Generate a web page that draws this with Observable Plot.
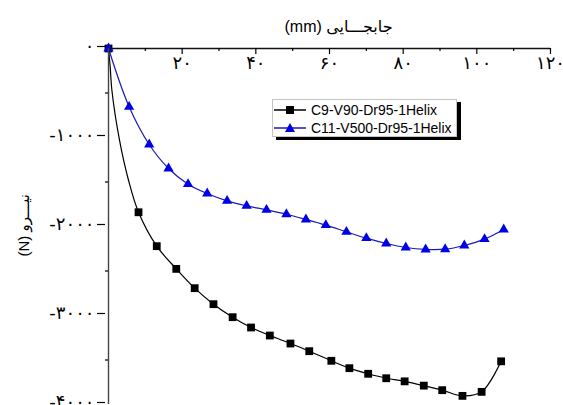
<!DOCTYPE html>
<html>
<head>
<meta charset="utf-8">
<script src="https://cdn.jsdelivr.net/npm/d3@7"></script>
<script src="https://cdn.jsdelivr.net/npm/@observablehq/plot@0.6"></script>
<style>
  html, body { margin: 0; padding: 0; background: #fff; }
  #wrap { position: relative; width: 563px; height: 405px; overflow: hidden; }
  #wrap svg { display: block; }
  g[aria-label="y-axis tick label"] text { font-size: 18px; letter-spacing: 3px; }
  g[aria-label="x-axis tick label"] text { font-size: 18px; letter-spacing: 2px; }
  #legend { position: absolute; left: 272px; top: 99px; width: 183px; height: 36px;
    background: #fff; border: 1px solid #c4c4c4; box-shadow: 4px 3px 0 #000;
    font-family: "Liberation Sans", Arial, sans-serif; font-size: 14px; color: #000; }
  .row { position: absolute; left: 0; height: 18px; display: flex; align-items: center; white-space: nowrap; }
  .row svg { margin-right: 4px; }
</style>
</head>
<body>
<div id="wrap"></div>
<script>
// ---- data ----
const seriesNames = ["C9-V90-Dr95-1Helix", "C11-V500-Dr95-1Helix"];
const xTitle = "(mm) جابجـــایی";
const yTitle = "(N) نیـــرو";

// series 1 (black squares)
const c9X = [0, 8.15, 13.1, 18.4, 23.4, 28.5, 33.7, 38.7, 43.8, 49.4, 54.5, 60.5, 65.4, 70.5, 75.4, 80.4, 85.6, 90.6, 96.1, 101.3, 106.6];
const c9Y = [0, -1840, -2221, -2476, -2693, -2873, -3019, -3135, -3225, -3315, -3401, -3509, -3592, -3655, -3705, -3740, -3788, -3839, -3903, -3858, -3515];
// extra points on the black line (no markers)
const c9LineX = [0.46, 0.92, 2.99, 5.43];
const c9LineY = [-207, -469, -1030, -1480];

// series 2 (blue triangles)
const c11X = [0, 5.6, 11.05, 16.3, 21.6, 26.8, 32.2, 37.5, 42.9, 48.3, 53.6, 59.0, 64.6, 70.0, 75.4, 80.7, 86.1, 91.4, 96.6, 102.1, 107.3];
const c11Y = [0, -655, -1079, -1348, -1524, -1629, -1712, -1768, -1813, -1862, -1921, -1985, -2060, -2131, -2191, -2236, -2258, -2255, -2213, -2142, -2034];

// ticks
const xMajor = [20, 40, 60, 80, 100, 120];
const xMinor = [10, 30, 50, 70, 90, 110];
const yMajor = [0, -1000, -2000, -3000, -4000];
const yMinor = [-500, -1500, -2500, -3500];

// ---- build ----
const faDigits = "۰۱۲۳۴۵۶۷۸۹";
const fa = (n) => String(n).replace(/\d/g, (d) => faDigits[+d]);

const s1 = c9X.map((x, i) => ({x, y: c9Y[i]}));
const s1line = s1.concat(c9LineX.map((x, i) => ({x, y: c9LineY[i]}))).sort((a, b) => a.x - b.x);
const s2 = c11X.map((x, i) => ({x, y: c11Y[i]}));

const black = "#000000";
const blueLine = "#1a1ab4";
const blueFill = "#0000e6";

const chart = Plot.plot({
  width: 563,
  height: 405,
  marginLeft: 108,
  marginRight: 13,
  marginTop: 48,
  marginBottom: 1,
  x: {domain: [0, 120]},
  y: {domain: [-4000, 0]},
  style: {fontFamily: "'DejaVu Sans', sans-serif", background: "#fff", color: "#000", overflow: "visible"},
  marks: [
    Plot.line(s1line, {x: "x", y: "y", stroke: black, strokeWidth: 1.2, curve: "catmull-rom"}),
    Plot.line(s2, {x: "x", y: "y", stroke: blueLine, strokeWidth: 1.2, curve: "catmull-rom"}),
    Plot.dot(s1, {x: "x", y: "y", symbol: "square", r: 4.4, fill: black, stroke: null}),
    Plot.dot(s2, {x: "x", y: "y", symbol: "triangle", r: 3.8, fill: blueFill, stroke: null}),
    Plot.ruleY([0], {stroke: "#111", strokeWidth: 1.4}),
    Plot.ruleX([0], {stroke: "#444", strokeWidth: 1.4}),
    Plot.axisX({anchor: "bottom", frameAnchor: "top", ticks: xMajor, tickSize: 6, tickPadding: 2,
      tickFormat: fa, fontSize: 18, label: null, strokeWidth: 1.2}),
    Plot.axisX({anchor: "bottom", frameAnchor: "top", ticks: xMinor, tickSize: 3,
      tickFormat: () => "", label: null, strokeWidth: 1.2}),
    Plot.axisY({anchor: "left", ticks: yMajor, tickSize: 8, tickPadding: 3, dx: -3,
      tickFormat: fa, fontSize: 18, dy: -2, label: null, strokeWidth: 1.2}),
    Plot.axisY({anchor: "left", ticks: yMinor, tickSize: 3,
      tickFormat: () => "", label: null, strokeWidth: 1.2}),
    Plot.text([xTitle], {frameAnchor: "top", lineAnchor: "middle", textAnchor: "middle", dy: -22, dx: 9, fontSize: 16,
      fontFamily: "'Liberation Sans', 'DejaVu Sans', sans-serif", fill: "#000"}),
    Plot.text([yTitle], {frameAnchor: "middle", lineAnchor: "middle", textAnchor: "start", dx: -305, dy: 30, rotate: -90, fontSize: 15,
      fontFamily: "'Liberation Sans', 'DejaVu Sans', sans-serif", fill: "#000"})
  ]
});

const wrap = document.getElementById("wrap");
wrap.appendChild(chart);

// legend (inside plot area, like the reference)
const legend = document.createElement("div");
legend.id = "legend";
const symbols = [
  {stroke: black, fill: black, shape: "square"},
  {stroke: blueLine, fill: blueFill, shape: "triangle"}
];
seriesNames.forEach((name, i) => {
  const row = document.createElement("div");
  row.className = "row";
  row.style.top = (1 + i * 18) + "px";
  const s = symbols[i];
  const marker = s.shape === "square"
    ? `<rect x="13" y="4" width="8" height="8" fill="${s.fill}"/>`
    : `<path d="M17,3 L22,12 L12,12 Z" fill="${s.fill}"/>`;
  row.innerHTML = `<svg width="34" height="16"><line x1="1" x2="33" y1="8" y2="8" stroke="${s.stroke}" stroke-width="1.5"/>${marker}</svg><span>${name}</span>`;
  legend.appendChild(row);
});
wrap.appendChild(legend);
</script>
</body>
</html>
